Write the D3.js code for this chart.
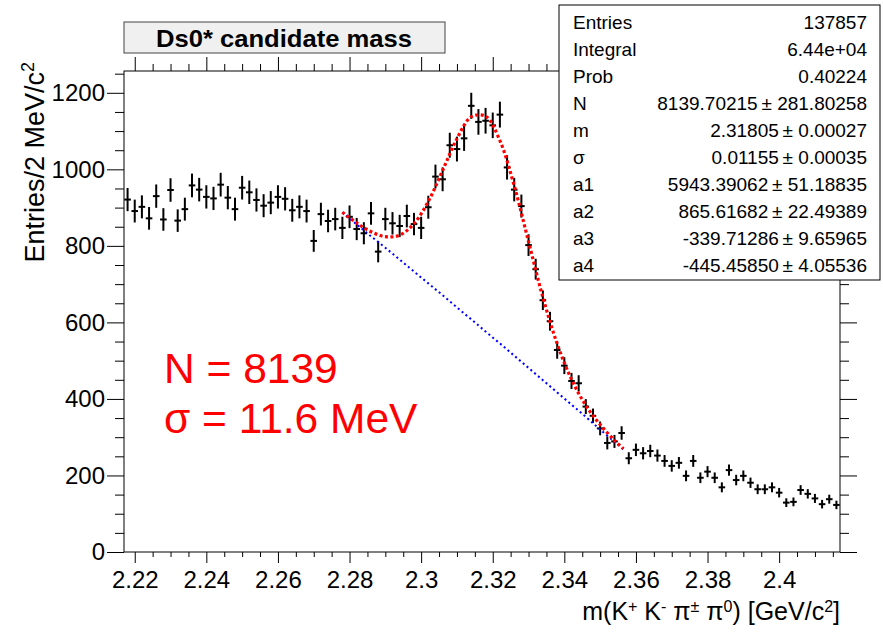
<!DOCTYPE html>
<html>
<head>
<meta charset="utf-8">
<script src="https://cdn.jsdelivr.net/npm/d3@7"></script>
<style>
  body { margin: 0; background: #fff; }
  svg { display: block; font-family: "Liberation Sans", Arial, Helvetica, sans-serif; }
</style>
</head>
<body>
<svg id="chart" width="883" height="632"></svg>
<script>
// histogram: 100 bins of 2 MeV, first bin starts at 2.217 GeV
const binLow = 2.217;
const binWidth = 0.002;
const counts = [
  921, 891, 902, 872, 930, 869, 946, 866, 896, 958,
  947, 928, 924, 960, 926, 896, 952, 940, 920, 905,
  913, 928, 923, 893, 902, 891, 813, 883, 865, 870,
  847, 876, 844, 833, 885, 785, 870, 859, 852, 878,
  857, 847, 901, 981, 974, 1063, 1053, 1081, 1166, 1124,
  1127, 1115, 1143, 1005, 947, 904, 802, 739, 658, 603,
  528, 487, 447, 441, 380, 356, 323, 285, 289, 311,
  245, 267, 258, 264, 252, 238, 225, 233, 199, 238,
  194, 210, 194, 169, 214, 188, 199, 181, 164, 164,
  169, 155, 129, 131, 162, 152, 140, 125, 138, 123
];

// fit curves (total = red, background = blue)
const fitX = [2.278, 2.282, 2.286, 2.290, 2.294, 2.298, 2.302, 2.306, 2.310, 2.314,
              2.318, 2.322, 2.326, 2.330, 2.334, 2.338, 2.342, 2.346, 2.350, 2.354, 2.3565];
const fitTotal = [888, 860, 837, 824, 828, 858, 916, 997, 1080, 1137,
                  1139, 1075, 957, 811, 666, 544, 451, 383, 333, 292, 270];
const fitBkg = [887, 856, 825, 795, 764, 733, 702, 671, 639, 608,
                576, 545, 513, 481, 449, 417, 385, 353, 320, 288, 268];

const xTicks = [2.22, 2.24, 2.26, 2.28, 2.30, 2.32, 2.34, 2.36, 2.38, 2.40];
const xTickLabels = ["2.22", "2.24", "2.26", "2.28", "2.3", "2.32", "2.34", "2.36", "2.38", "2.4"];
const yTicks = [0, 200, 400, 600, 800, 1000, 1200];

const statLabels = ["Entries", "Integral", "Prob", "N", "m", "\u03c3", "a1", "a2", "a3", "a4"];
const statValues = [
  "137857", "6.44e+04", "0.40224",
  "8139.70215\u2009\u00b1 281.80258",
  "2.31805\u2009\u00b1 0.00027",
  "0.01155\u2009\u00b1 0.00035",
  "5943.39062\u2009\u00b1 51.18835",
  "865.61682\u2009\u00b1 22.49389",
  "-339.71286\u2009\u00b1 9.65965",
  "-445.45850\u2009\u00b1 4.05536"
];

const svg = d3.select("#chart");
const fL = 124, fR = 840, fT = 71, fB = 552;

const x = d3.scaleLinear().domain([2.217, 2.417]).range([fL, fR]);
const y = d3.scaleLinear().domain([0, 1257]).range([fB, fT]);

const xMinor = d3.range(2.22, 2.417, 0.005).filter(v => !xTicks.some(t => Math.abs(t - v) < 1e-6));
const yMinor = d3.range(0, 1257, 50).filter(v => v % 200 !== 0);

function styleAxis(g) {
  g.select(".domain").remove();
  g.selectAll("line").attr("stroke", "#000").attr("stroke-width", 1);
  g.selectAll("text").attr("fill", "#000").attr("font-size", 24).attr("font-family", null);
}

// bottom axis
svg.append("g").attr("transform", `translate(0,${fB})`)
  .call(d3.axisBottom(x).tickValues(xTicks).tickSize(11).tickPadding(8)
    .tickFormat((d, i) => xTickLabels[i]))
  .call(styleAxis);
svg.append("g").attr("transform", `translate(0,${fB})`)
  .call(d3.axisBottom(x).tickValues(xMinor).tickSize(5).tickFormat(""))
  .call(styleAxis);

// top axis (ticks only)
svg.append("g").attr("transform", `translate(0,${fT})`)
  .call(d3.axisTop(x).tickValues(xTicks).tickSize(14).tickFormat(""))
  .call(styleAxis);
svg.append("g").attr("transform", `translate(0,${fT})`)
  .call(d3.axisTop(x).tickValues(xMinor).tickSize(7).tickFormat(""))
  .call(styleAxis);

// left axis
svg.append("g").attr("transform", `translate(${fL},0)`)
  .call(d3.axisLeft(y).tickValues(yTicks).tickSize(17).tickPadding(2).tickFormat(d3.format("d")))
  .call(styleAxis);
svg.append("g").attr("transform", `translate(${fL},0)`)
  .call(d3.axisLeft(y).tickValues(yMinor).tickSize(9).tickFormat(""))
  .call(styleAxis);

// right axis (ticks only)
svg.append("g").attr("transform", `translate(${fR},0)`)
  .call(d3.axisRight(y).tickValues(yTicks).tickSize(17).tickFormat(""))
  .call(styleAxis);
svg.append("g").attr("transform", `translate(${fR},0)`)
  .call(d3.axisRight(y).tickValues(yMinor).tickSize(9).tickFormat(""))
  .call(styleAxis);

// frame
svg.append("rect")
  .attr("x", fL).attr("y", fT)
  .attr("width", fR - fL).attr("height", fB - fT)
  .attr("fill", "none").attr("stroke", "#000").attr("stroke-width", 1);

// data points with sqrt(N) errors
const pts = counts.map((c, i) => ({ x: binLow + binWidth * (i + 0.5), c: c }));
const marks = svg.append("g").attr("stroke", "#000").attr("stroke-width", 2);
marks.selectAll("line.ev").data(pts).join("line")
  .attr("class", "ev")
  .attr("x1", d => x(d.x)).attr("x2", d => x(d.x))
  .attr("y1", d => y(d.c - Math.sqrt(d.c))).attr("y2", d => y(d.c + Math.sqrt(d.c)));
marks.selectAll("line.eh").data(pts).join("line")
  .attr("class", "eh")
  .attr("x1", d => x(d.x) - 3.3).attr("x2", d => x(d.x) + 3.3)
  .attr("y1", d => y(d.c)).attr("y2", d => y(d.c));

// fit curves
const fitLine = d3.line().curve(d3.curveCatmullRom)
  .x((d, i) => x(fitX[i])).y(d => y(d));
svg.append("path").datum(fitBkg)
  .attr("d", fitLine)
  .attr("fill", "none").attr("stroke", "#0000ff")
  .attr("stroke-width", 2).attr("stroke-dasharray", "2,3");
svg.append("path").datum(fitTotal)
  .attr("d", fitLine)
  .attr("fill", "none").attr("stroke", "#ff0000")
  .attr("stroke-width", 3.2).attr("stroke-dasharray", "3,2.5");

// title box
svg.append("rect")
  .attr("x", 124).attr("y", 22).attr("width", 321).attr("height", 31)
  .attr("fill", "#f0f0f0").attr("stroke", "#444").attr("stroke-width", 1);
svg.append("text")
  .attr("x", 284).attr("y", 47)
  .attr("text-anchor", "middle")
  .attr("font-size", 24).attr("font-weight", "bold")
  .attr("textLength", 256).attr("lengthAdjust", "spacingAndGlyphs")
  .text("Ds0* candidate mass");

// stats box
const stats = svg.append("g");
stats.append("rect")
  .attr("x", 559).attr("y", 5).attr("width", 321).attr("height", 275)
  .attr("fill", "#fff").attr("stroke", "#000").attr("stroke-width", 1);
stats.selectAll("text.lab").data(statLabels).join("text")
  .attr("class", "lab")
  .attr("x", 573).attr("y", (d, i) => 22 + 27 * i)
  .attr("dy", "0.35em").attr("font-size", 19)
  .text(d => d);
stats.selectAll("text.val").data(statValues).join("text")
  .attr("class", "val")
  .attr("x", 867).attr("y", (d, i) => 22 + 27 * i)
  .attr("dy", "0.35em").attr("font-size", 19).attr("text-anchor", "end")
  .text(d => d);

// axis titles
const yt = svg.append("text")
  .attr("transform", "translate(44,62) rotate(-90)")
  .attr("text-anchor", "end").attr("font-size", 27);
yt.append("tspan").text("Entries/2 MeV/c");
yt.append("tspan").attr("font-size", 18).attr("baseline-shift", "super").text("2");

const xt = svg.append("text")
  .attr("x", 840).attr("y", 620)
  .attr("text-anchor", "end").attr("font-size", 25);
const xParts = [["m(K", null], ["+", "sup"], [" K", null], ["-", "sup"], [" \u03c0", null],
  ["\u00b1", "sup"], [" \u03c0", null], ["0", "sup"], [") [GeV/c", null], ["2", "sup"], ["]", null]];
xParts.forEach(([t, s]) => {
  const ts = xt.append("tspan").text(t);
  if (s) ts.attr("font-size", 16).attr("baseline-shift", "super");
});

// red annotation
svg.append("text").attr("x", 164).attr("y", 383)
  .attr("font-size", 42.5).attr("fill", "#ff0000").text("N = 8139");
svg.append("text").attr("x", 164).attr("y", 433)
  .attr("font-size", 42.5).attr("fill", "#ff0000").text("\u03c3 = 11.6 MeV");
</script>
</body>
</html>
